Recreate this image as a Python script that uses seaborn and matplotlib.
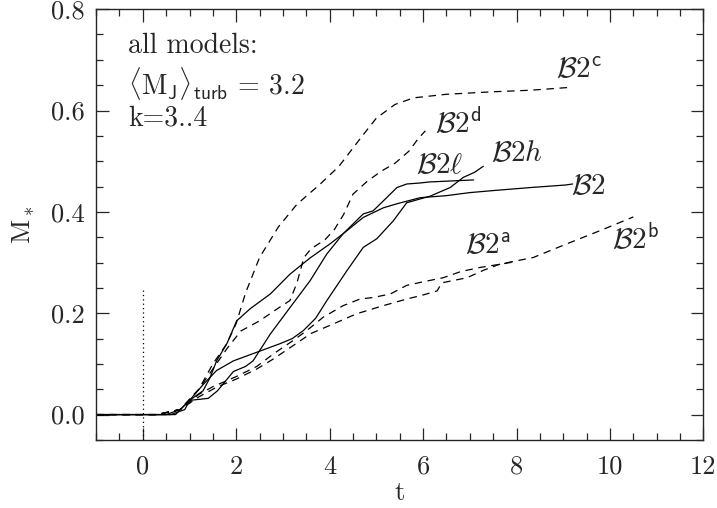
import numpy as np
import pandas as pd
import matplotlib
matplotlib.use("Agg")
import matplotlib.pyplot as plt
import seaborn as sns
from matplotlib.ticker import MultipleLocator

# accretion curves: time t and accreted mass M_*
t_b2 = [-1.0, 0.6, 0.9, 1.0, 1.4, 1.6, 1.94, 2.2, 2.36, 2.73, 3.15, 3.58, 3.94, 4.29, 4.72,
        5.15, 5.44, 5.94, 6.5, 7.0, 7.5, 8.3, 9.05, 9.2]
m_b2 = [0.0, 0.0, 0.01, 0.028, 0.032, 0.047, 0.085, 0.095, 0.106, 0.159, 0.211, 0.264, 0.317, 0.357, 0.389,
        0.408, 0.416, 0.428, 0.432, 0.438, 0.442, 0.448, 0.453, 0.455]

t_b2l = [-1.0, 0.5, 0.8, 1.0, 1.29, 1.44, 1.58, 1.8, 2.01, 2.3, 2.73, 3.15, 3.58, 4.01, 4.29,
         4.72, 4.93, 5.22, 5.44, 5.65, 5.94, 6.13, 7.08]
m_b2l = [0.0, 0.0, 0.01, 0.028, 0.047, 0.073, 0.106, 0.14, 0.185, 0.209, 0.238, 0.277, 0.309, 0.337, 0.357,
         0.396, 0.402, 0.428, 0.448, 0.455, 0.457, 0.459, 0.463]

t_b2h = [-1.0, 0.7, 1.0, 1.3, 1.58, 1.94, 2.44, 2.94, 3.2, 3.44, 3.7, 3.94, 4.37, 4.72, 5.01,
         5.36, 5.65, 6.15, 6.58, 6.86, 7.1, 7.29]
m_b2h = [0.0, 0.0, 0.028, 0.06, 0.087, 0.106, 0.123, 0.14, 0.15, 0.166, 0.19, 0.225, 0.284, 0.33, 0.347,
         0.382, 0.418, 0.431, 0.448, 0.468, 0.478, 0.49]

t_b2a = [-1.0, 0.3, 0.8, 1.2, 1.5, 2.0, 2.44, 2.8, 3.2, 3.5, 3.86, 4.29, 4.65, 4.93, 5.3,
         5.65, 6.0, 6.43, 6.8, 7.2, 7.6, 8.0]
m_b2a = [0.0, 0.0, 0.01, 0.04, 0.055, 0.075, 0.095, 0.12, 0.145, 0.165, 0.192, 0.215, 0.228, 0.231, 0.238,
         0.255, 0.262, 0.27, 0.282, 0.29, 0.296, 0.302]

t_b2b = [-1.0, 0.3, 0.8, 1.2, 1.6, 2.0, 2.44, 2.8, 3.2, 3.6, 4.08, 4.58, 5.15, 5.65, 6.0,
         6.3, 6.4, 6.94, 7.3, 7.65, 8.36, 9.08, 9.79, 10.5]
m_b2b = [0.0, 0.0, 0.01, 0.035, 0.055, 0.07, 0.09, 0.11, 0.135, 0.16, 0.179, 0.199, 0.215, 0.228, 0.236,
         0.244, 0.26, 0.27, 0.285, 0.297, 0.31, 0.337, 0.363, 0.39]

t_b2c = [-1.0, 0.3, 0.8, 1.2, 1.5, 1.8, 2.0, 2.2, 2.5, 2.9, 3.3, 3.8, 4.2, 4.7, 5.0,
         5.4, 5.8, 6.5, 7.5, 8.3, 9.2]
m_b2c = [0.0, 0.0, 0.01, 0.05, 0.1, 0.14, 0.18, 0.24, 0.31, 0.37, 0.415, 0.455, 0.49, 0.55, 0.585,
         0.612, 0.625, 0.632, 0.637, 0.64, 0.646]

t_b2d = [-1.0, 0.3, 0.8, 1.2, 1.5, 1.8, 2.1, 2.5, 2.9, 3.15, 3.3, 3.45, 3.6, 3.9, 4.1,
         4.3, 4.5, 4.8, 5.1, 5.4, 5.7, 5.9, 6.05]
m_b2d = [0.0, 0.0, 0.01, 0.05, 0.09, 0.13, 0.165, 0.185, 0.21, 0.225, 0.26, 0.31, 0.327, 0.345, 0.365,
         0.395, 0.435, 0.46, 0.48, 0.496, 0.52, 0.545, 0.56]

labels = [r"$\mathcal{B}2$", r"$\mathcal{B}2\ell$", r"$\mathcal{B}2h$",
          r"$\mathcal{B}2^{\mathsf{a}}$", r"$\mathcal{B}2^{\mathsf{b}}$",
          r"$\mathcal{B}2^{\mathsf{c}}$", r"$\mathcal{B}2^{\mathsf{d}}$"]
label_t = [9.17, 5.85, 7.46, 6.9, 10.05, 8.85, 6.26]
label_m = [0.449, 0.49, 0.514, 0.331, 0.347, 0.678, 0.575]

curves = [(t_b2, m_b2), (t_b2l, m_b2l), (t_b2h, m_b2h), (t_b2a, m_b2a),
          (t_b2b, m_b2b), (t_b2c, m_b2c), (t_b2d, m_b2d)]
solid = [True, True, True, False, False, False, False]

sns.set_style("ticks")
plt.rcParams["font.family"] = ["cmr10", "DejaVu Serif"]
plt.rcParams["mathtext.fontset"] = "cm"
plt.rcParams["axes.formatter.use_mathtext"] = True

fig = plt.figure(figsize=(7.17, 5.08), dpi=100)
ax = fig.add_axes([0.134, 0.134, 0.847, 0.848])

for (tt, mm), lab, is_solid in zip(curves, labels, solid):
    df = pd.DataFrame({"t": tt, "M": mm})
    ls = "-" if is_solid else (0, (6, 4.5))
    sns.lineplot(data=df, x="t", y="M", ax=ax, color="black", lw=0.9,
                 linestyle=ls, estimator=None, sort=False)

for lab, lt, lm in zip(labels, label_t, label_m):
    ax.text(lt, lm, lab, fontsize=21, ha="left", va="center")

# free-fall time marker
ax.plot([0, 0], [-0.05, 0.25], color="black", lw=0.9, linestyle=(0, (1, 2.5)))

ax.text(-0.32, 0.727, "all models:", fontsize=20, va="center")
ax.text(-0.32, 0.654, r"$\langle \mathrm{M}_{\mathsf{J}}\rangle_{\mathsf{turb}}$ = 3.2",
        fontsize=20, va="center")
ax.text(-0.32, 0.585, "k=3..4", fontsize=20, va="center")

ax.set_xlim(-1, 12)
ax.set_ylim(-0.05, 0.8)
ax.xaxis.set_major_locator(MultipleLocator(2))
ax.xaxis.set_minor_locator(MultipleLocator(0.5))
ax.yaxis.set_major_locator(MultipleLocator(0.2))
ax.yaxis.set_minor_locator(MultipleLocator(0.05))
ax.set_xticks([0, 2, 4, 6, 8, 10, 12])
ax.set_xticklabels(["0", "2", "4", "6", "8", "10", "12"])
ax.set_yticks([0.0, 0.2, 0.4, 0.6, 0.8])
ax.set_yticklabels(["0.0", "0.2", "0.4", "0.6", "0.8"])
ax.tick_params(which="both", direction="in", top=True, right=True,
               labelsize=19, width=0.9)
ax.tick_params(axis="x", which="both", pad=11)
ax.tick_params(axis="y", which="both", pad=8)
ax.tick_params(which="major", length=9)
ax.tick_params(which="minor", length=5)
for s in ax.spines.values():
    s.set_linewidth(1.0)
    s.set_visible(True)

ax.set_xlabel("t", fontsize=19, labelpad=2)
ax.set_ylabel(r"M$_*$", fontsize=19, labelpad=10)

fig.savefig("out.png", dpi=100)
